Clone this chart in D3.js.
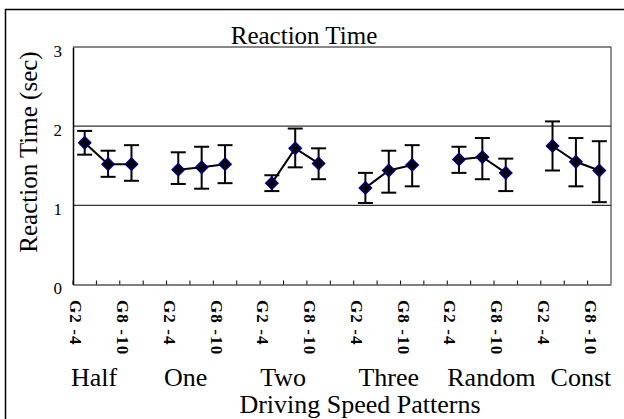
<!DOCTYPE html>
<html>
<head>
<meta charset="utf-8">
<script src="https://cdn.jsdelivr.net/npm/d3@7/dist/d3.min.js"></script>
<style>
  body { margin: 0; background: #fff; }
  svg { display: block; }
  svg text { font-family: "Liberation Serif", "Times New Roman", serif; fill: #000; }
</style>
</head>
<body>
<svg id="chart" width="624" height="419"></svg>
<script>
// pattern groups and the gear levels inside each group
const groups = ["Half", "One", "Two", "Three", "Random", "Const"];
const levels = ["G2 -4", "G5 -7", "G8 -10"];

// mean reaction time (sec), one row per group, one value per level
const means = [
    [1.79, 1.52, 1.52],
    [1.45, 1.48, 1.52],
    [1.28, 1.72, 1.53],
    [1.22, 1.44, 1.51],
    [1.58, 1.61, 1.41],
    [1.75, 1.55, 1.44]
];
// error bar ends
const upper = [
    [1.94, 1.69, 1.76],
    [1.67, 1.74, 1.76],
    [1.38, 1.97, 1.72],
    [1.41, 1.69, 1.76],
    [1.74, 1.85, 1.59],
    [2.06, 1.85, 1.81]
];
const lower = [
    [1.64, 1.36, 1.31],
    [1.27, 1.21, 1.28],
    [1.18, 1.48, 1.33],
    [1.03, 1.16, 1.24],
    [1.41, 1.33, 1.18],
    [1.44, 1.24, 1.04]
];
const yTicks = [0, 1, 2, 3];
const gridValues = [1, 2];

const svg = d3.select("#chart");
const plotLeft = 73, plotRight = 611, plotTop = 47, plotBottom = 284.5;

// categories: three levels per group, one empty slot between groups
let cats = [];
groups.forEach((g, gi) => {
    levels.forEach((l, li) => cats.push({ id: g + "|" + l, label: l, group: gi, level: li }));
    if (gi < groups.length - 1) cats.push({ id: "gap" + gi, label: "", group: -1 });
});

const x = d3.scaleBand().domain(cats.map(c => c.id)).range([plotLeft, plotRight]).padding(0);
const y = d3.scaleLinear().domain([0, 3]).range([plotBottom, plotTop]);

// outer frame
svg.append("rect")
    .attr("x", 5.5).attr("y", 9.5)
    .attr("width", 640).attr("height", 430)
    .attr("fill", "none").attr("stroke", "#000").attr("stroke-width", 1.5);

// gridlines
svg.selectAll("line.grid").data(gridValues).join("line")
    .attr("class", "grid")
    .attr("x1", plotLeft).attr("x2", plotRight)
    .attr("y1", d => y(d)).attr("y2", d => y(d))
    .attr("stroke", "#333").attr("stroke-width", 1.2);

// plot border: top gray, right black, left axis black
svg.append("line").attr("x1", plotLeft).attr("x2", plotRight).attr("y1", y(3)).attr("y2", y(3))
    .attr("stroke", "#888").attr("stroke-width", 2);
svg.append("line").attr("x1", plotRight).attr("x2", plotRight).attr("y1", y(3)).attr("y2", plotBottom)
    .attr("stroke", "#222").attr("stroke-width", 1);

// x axis with inner ticks at category boundaries
const xAxis = svg.append("g").attr("transform", `translate(0,${plotBottom})`)
    .call(d3.axisBottom(x).tickSizeInner(-4).tickSizeOuter(0).tickFormat(""));
xAxis.select(".domain").attr("stroke", "#808080").attr("stroke-width", 2);
xAxis.selectAll(".tick").attr("transform", d => `translate(${x(d)},0)`);
xAxis.selectAll(".tick line").attr("stroke", "#000").attr("stroke-width", 1);

// y axis
const yAxis = svg.append("g").attr("transform", `translate(${plotLeft},0)`)
    .call(d3.axisLeft(y).tickValues(yTicks).tickSize(0).tickFormat(d3.format("d")));
yAxis.attr("font-family", null);
yAxis.select(".domain").attr("stroke", "#000").attr("stroke-width", 1.5);
yAxis.selectAll(".tick text")
    .attr("x", -11).attr("dy", "0.55em")
    .attr("font-size", 17);

// rotated level labels, every other category
svg.selectAll("text.lvl").data(cats.filter((c, i) => i % 2 === 0)).join("text")
    .attr("class", "lvl")
    .attr("transform", d => `translate(${x(d.id) + x.bandwidth() / 2 - 14.5},300) rotate(90)`)
    .attr("font-size", 17).attr("font-weight", "bold")
    .attr("letter-spacing", 1.1)
    .text(d => d.label);

// group names under the labels
const groupNudge = [-14, -16, -12, 0, 9, 5];
svg.selectAll("text.grp").data(groups).join("text")
    .attr("class", "grp")
    .attr("x", (g, gi) => x(g + "|" + levels[1]) + x.bandwidth() / 2 + groupNudge[gi])
    .attr("y", 386)
    .attr("text-anchor", "middle")
    .attr("font-size", 26)
    .text(g => g);

// titles
svg.append("text").attr("x", 304).attr("y", 44).attr("text-anchor", "middle")
    .attr("font-size", 25).text("Reaction Time");
svg.append("text").attr("x", 360).attr("y", 413).attr("text-anchor", "middle")
    .attr("font-size", 26).text("Driving Speed Patterns");
svg.append("text")
    .attr("transform", `translate(37,152) rotate(-90)`)
    .attr("text-anchor", "middle").attr("font-size", 25)
    .text("Reaction Time (sec)");

// series points
const pts = [];
groups.forEach((g, gi) => levels.forEach((l, li) => pts.push({
    group: gi, cx: x(g + "|" + l) + x.bandwidth() / 2,
    m: means[gi][li], hi: upper[gi][li], lo: lower[gi][li]
})));

// connecting lines inside each group
const line = d3.line().x(d => d.cx).y(d => y(d.m));
svg.selectAll("path.conn").data(groups.map((g, gi) => pts.filter(p => p.group === gi))).join("path")
    .attr("class", "conn")
    .attr("d", line)
    .attr("fill", "none").attr("stroke", "#000").attr("stroke-width", 2);

// error bars
const cap = 7.5;
const eb = svg.selectAll("g.err").data(pts).join("g").attr("class", "err")
    .attr("stroke", "#000").attr("stroke-width", 2);
eb.append("line").attr("x1", d => d.cx).attr("x2", d => d.cx)
    .attr("y1", d => y(d.hi)).attr("y2", d => y(d.lo));
eb.append("line").attr("x1", d => d.cx - cap).attr("x2", d => d.cx + cap)
    .attr("y1", d => y(d.hi)).attr("y2", d => y(d.hi));
eb.append("line").attr("x1", d => d.cx - cap).attr("x2", d => d.cx + cap)
    .attr("y1", d => y(d.lo)).attr("y2", d => y(d.lo));

// diamond markers
const dm = 6;
svg.selectAll("path.mk").data(pts).join("path")
    .attr("class", "mk")
    .attr("d", d => `M${d.cx},${y(d.m) - dm}L${d.cx + dm},${y(d.m)}L${d.cx},${y(d.m) + dm}L${d.cx - dm},${y(d.m)}Z`)
    .attr("fill", "#000").attr("stroke", "#000080").attr("stroke-width", 1.6);
</script>
</body>
</html>
